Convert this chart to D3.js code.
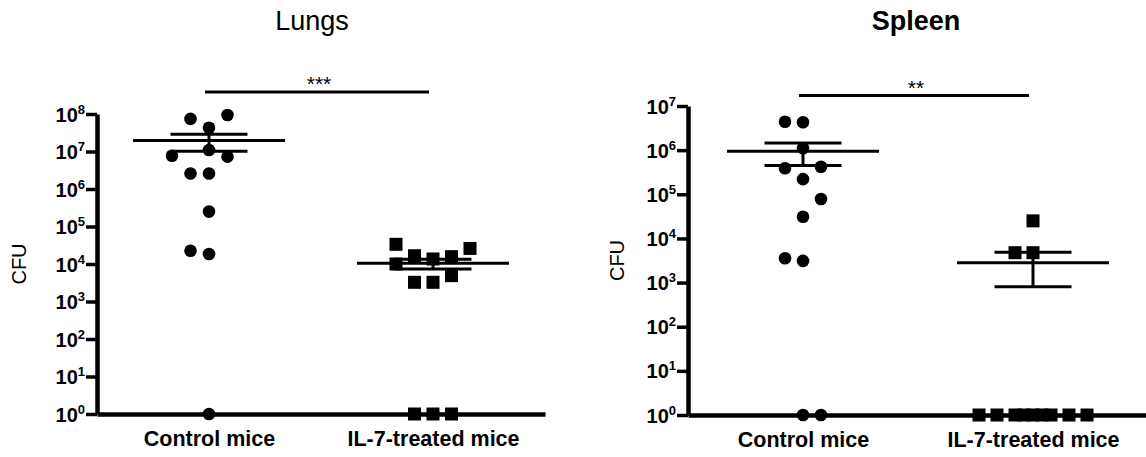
<!DOCTYPE html>
<html>
<head>
<meta charset="utf-8">
<style>
  body { margin: 0; background: #fff; }
  svg { font-family: "Liberation Sans", Arial, sans-serif; }
  .axis path, .axis line { stroke: #000; }
  .axis text { fill: #000; }
</style>
</head>
<body>
<svg id="chart" width="1146" height="457"></svg>
<script src="https://cdn.jsdelivr.net/npm/d3@7"></script>
<script>
// categories
const groups = ["Control mice", "IL-7-treated mice"]

// Lungs: CFU per mouse (1 = below detection, drawn on the axis) and column slot of each dot
const lungsControl = [9.4e7, 7.4e7, 4.3e7, 1.1e7, 7.7e6, 7.3e6, 2.6e6, 2.6e6, 2.5e5, 2.26e4, 1.85e4, 1]
const lungsControlSlot = [1, -1, 0, 0, -2, 1, -1, 0, 0, -1, 0, 0]
const lungsIL7 = [3.35e4, 2.6e4, 1.66e4, 1.36e4, 1.57e4, 1.0e4, 3.25e3, 3.25e3, 4.9e3, 1, 1, 1]
const lungsIL7Slot = [-2, 2, -1, 0, 1, -2, -1, 0, 1, -1, 0, 1]
const lungsMean = [1.95e7, 1.04e4]
const lungsSem = [0.93e7, 3.0e3]
const lungsTicks = [1, 10, 1e2, 1e3, 1e4, 1e5, 1e6, 1e7, 1e8]

// Spleen
const spleenControl = [4.4e6, 4.3e6, 1.1e6, 3.9e5, 4.2e5, 2.2e5, 7.8e4, 3.1e4, 3.55e3, 3.1e3, 1, 1]
const spleenControlSlot = [-1, 0, 0, -1, 1, 0, 1, 0, -1, 0, 0, 1]
const spleenIL7 = [2.5e4, 4.75e3, 4.75e3, 1, 1, 1, 1, 1, 1, 1, 1, 1]
const spleenIL7Slot = [0, -1, 0, -3, -2, -1, -0.5, 0, 0.5, 1, 2, 3]
const spleenMean = [9.5e5, 2.83e3]
const spleenSem = [5.0e5, 2.03e3]
const spleenTicks = [1, 10, 1e2, 1e3, 1e4, 1e5, 1e6, 1e7]

const svg = d3.select("#chart")

function drawPanel(opt) {
  let g = svg.append("g")

  let x = d3.scalePoint().domain(groups).range(opt.xRange).padding(0.5)
  let y = d3.scaleLog().domain([1, opt.top]).range(opt.yRange)
  // dot column spacing
  let slot = d3.scaleLinear().domain([0, 1]).range([0, opt.step])

  // y axis
  let ya = g.append("g").attr("class", "axis")
    .attr("transform", "translate(" + opt.xRange[0] + ",0)")
    .call(d3.axisLeft(y).tickValues(opt.ticks).tickSize(11).tickSizeOuter(0).tickFormat(""))
  ya.select(".domain").attr("stroke-width", 4.5)
  ya.selectAll(".tick line").attr("stroke-width", 3.5)
  ya.selectAll(".tick").append("text")
    .attr("x", -12).attr("y", 7)
    .attr("text-anchor", "end")
    .style("font-size", "20px").style("font-weight", "bold")
    .each(function(d) {
      let t = d3.select(this)
      t.append("tspan").text("10")
      t.append("tspan").attr("dy", -8).style("font-size", "13px").text(Math.round(Math.log10(d)))
    })

  // x axis
  let xa = g.append("g").attr("class", "axis")
    .attr("transform", "translate(0," + opt.yRange[0] + ")")
    .call(d3.axisBottom(x).tickSize(6).tickSizeOuter(0).tickPadding(11))
  xa.select(".domain").attr("stroke-width", 4.5)
  xa.selectAll(".tick line").attr("stroke-width", 3)
  xa.selectAll(".tick text").style("font-size", "21.5px").style("font-weight", "bold")

  // y label
  g.append("text")
    .attr("transform", "translate(" + opt.labelX + "," + ((opt.yRange[0] + opt.yRange[1]) / 2) + ") rotate(-90)")
    .attr("text-anchor", "middle")
    .style("font-size", "20px")
    .text("CFU")

  // title
  g.append("text")
    .attr("x", opt.titleX).attr("y", 30)
    .attr("text-anchor", "middle")
    .style("font-size", "27px")
    .style("font-weight", opt.titleBold ? "bold" : "normal")
    .text(opt.title)

  // mean +- sem
  opt.mean.forEach((m, i) => {
    let cx = x(groups[i])
    let s = opt.sem[i]
    g.append("line")
      .attr("x1", cx - 76).attr("x2", cx + 76)
      .attr("y1", y(m)).attr("y2", y(m))
      .attr("stroke", "#000").attr("stroke-width", 3)
    g.append("line")
      .attr("x1", cx).attr("x2", cx)
      .attr("y1", y(m + s)).attr("y2", y(m - s))
      .attr("stroke", "#000").attr("stroke-width", 3)
    ;[m + s, m - s].forEach(v => {
      g.append("line")
        .attr("x1", cx - 38.5).attr("x2", cx + 38.5)
        .attr("y1", y(v)).attr("y2", y(v))
        .attr("stroke", "#000").attr("stroke-width", 3)
    })
  })

  // control dots
  g.selectAll(".dot").data(opt.control).join("circle")
    .attr("cx", (d, i) => x(groups[0]) + slot(opt.controlSlot[i]))
    .attr("cy", d => y(d))
    .attr("r", 6.3)
    .attr("fill", "#000")

  // treated squares
  g.selectAll(".sq").data(opt.treated).join("rect")
    .attr("x", (d, i) => x(groups[1]) + slot(opt.treatedSlot[i]) - 6.5)
    .attr("y", d => y(d) - 6.5)
    .attr("width", 13).attr("height", 13)
    .attr("fill", "#000")

  // significance bar
  let x1 = x(groups[0]) - 4, x2 = x(groups[1]) - 4
  g.append("line")
    .attr("x1", x1).attr("x2", x2)
    .attr("y1", opt.sigY).attr("y2", opt.sigY)
    .attr("stroke", "#000").attr("stroke-width", 3)
  g.append("text")
    .attr("x", (x1 + x2) / 2 + 2).attr("y", opt.sigY - 1)
    .attr("text-anchor", "middle")
    .style("font-size", "21px")
    .text(opt.sig)
}

drawPanel({
  title: "Lungs", titleBold: false, titleX: 312,
  xRange: [97, 545], yRange: [414, 114], top: 1e8, ticks: lungsTicks, step: 18.5,
  control: lungsControl, controlSlot: lungsControlSlot,
  treated: lungsIL7, treatedSlot: lungsIL7Slot,
  mean: lungsMean, sem: lungsSem,
  labelX: 26, sigY: 92, sig: "***"
})

drawPanel({
  title: "Spleen", titleBold: true, titleX: 916,
  xRange: [688, 1148], yRange: [415, 106], top: 1e7, ticks: spleenTicks, step: 18,
  control: spleenControl, controlSlot: spleenControlSlot,
  treated: spleenIL7, treatedSlot: spleenIL7Slot,
  mean: spleenMean, sem: spleenSem,
  labelX: 624, sigY: 95.5, sig: "**"
})
</script>
</body>
</html>
